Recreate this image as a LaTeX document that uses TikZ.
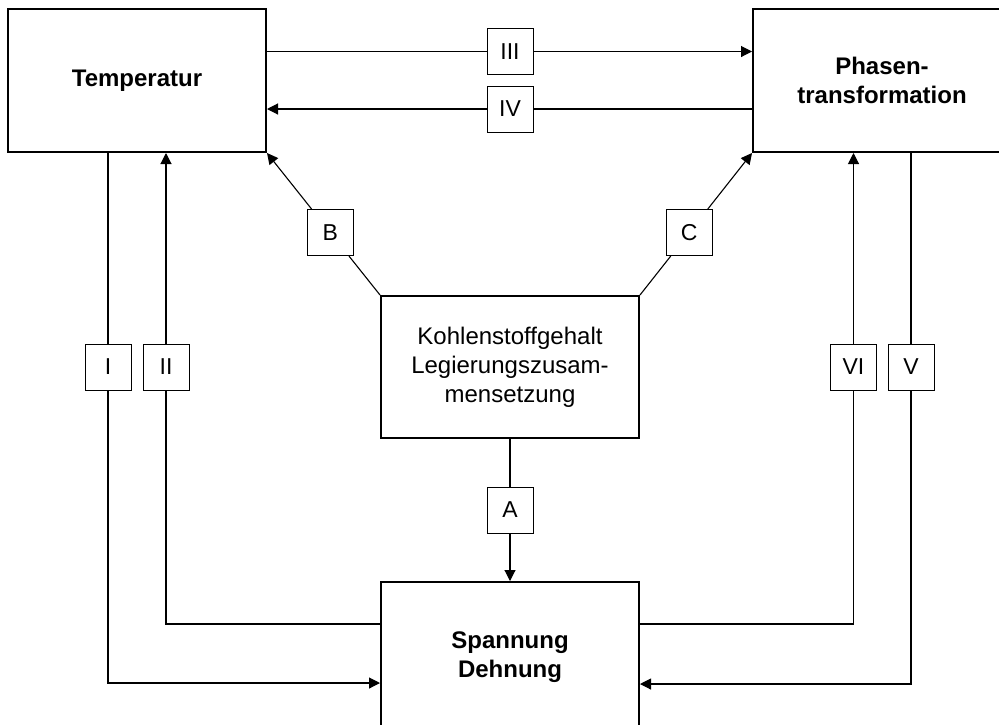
\documentclass[tikz,border=0pt]{standalone}
\usepackage{fontspec}
\setmainfont{Liberation Sans}
\usetikzlibrary{arrows.meta,calc}
\begin{document}
\begin{tikzpicture}[x=1pt,y=-1pt,
  bigbox/.style={draw,line width=2pt,minimum width=258pt,minimum height=143pt,
    inner sep=0pt,align=center,font=\fontsize{24}{29}\selectfont},
  tag/.style={draw,line width=1pt,fill=white,minimum size=46pt,inner sep=0pt,
    font=\fontsize{23}{28}\selectfont},
  link/.style={line width=1.1pt},
  arr/.style={link,-{Triangle[length=11pt,width=11pt]}}]
\useasboundingbox (0,0) rectangle (999,724);
\begin{scope}
\clip (0,0) rectangle (999,724);

% main blocks
\node[bigbox] (temp)  at (137,80.5)  {\bfseries Temperatur};
\node[bigbox] (phase) at (882,80.5)  {\bfseries Phasen-\\\bfseries transformation};
\node[bigbox,minimum height=142pt] (kohl) at (510,367)
  {Kohlenstoffgehalt\\Legierungszusam-\\mensetzung};
\node[bigbox,minimum height=150pt] (span) at (510,657)
  {\bfseries Spannung\\\bfseries Dehnung};

% labelled influences
\node[tag] (lIII) at (510,51.5) {III};
\node[tag] (lIV)  at (510,109)  {IV};
\node[tag] (lI)   at (108,367)  {I};
\node[tag] (lII)  at (166,367)  {II};
\node[tag] (lVI)  at (853.5,367) {VI};
\node[tag] (lV)   at (911,367)  {V};
\node[tag] (lA)   at (510,510)  {A};
\node[tag] (lB) at ($(kohl.north west)!0.44!(temp.south east)$) {B};
\node[tag] (lC) at ($(kohl.north east)!0.44!(phase.south west)$) {C};

% bends of the side loops
\coordinate (cI)  at (108,683);
\coordinate (cII) at (166,624);
\coordinate (cVI) at (853.5,624);
\coordinate (cV)  at (911,684);

% connectors
\draw[arr] (temp.east |- lIII) -- (lIII) -- (phase.west |- lIII);
\draw[arr] (phase.west |- lIV) -- (lIV) -- (temp.east |- lIV);
\draw[arr] (temp.south -| lI) -- (lI) -- (cI) -- (span.west |- cI);
\draw[arr] (span.west |- cII) -- (cII) -- (lII) -- (temp.south -| lII);
\draw[arr] (span.east |- cVI) -- (cVI) -- (lVI) -- (phase.south -| lVI);
\draw[arr] (phase.south -| lV) -- (lV) -- (cV) -- (span.east |- cV);
\draw[arr] (kohl.south) -- (lA) -- (span.north);
\draw[arr] (kohl.north west) -- (lB) -- (temp.south east);
\draw[arr] (kohl.north east) -- (lC) -- (phase.south west);
\end{scope}
\end{tikzpicture}
\end{document}
